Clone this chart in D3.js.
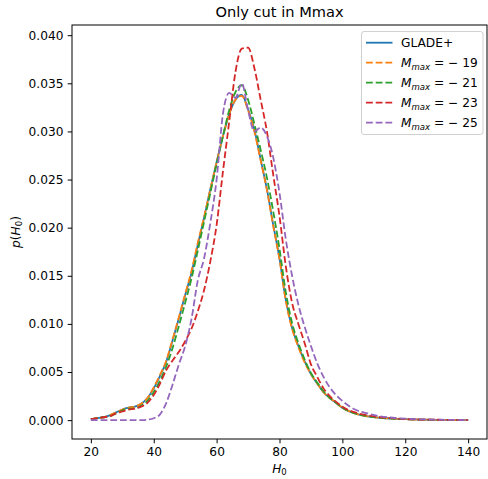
<!DOCTYPE html>
<html>
<head>
<meta charset="utf-8">
<script src="https://cdn.jsdelivr.net/npm/d3@7"></script>
<style>
  body { margin: 0; background: #fff; }
  svg { font-family: 'DejaVu Sans', sans-serif; }
</style>
</head>
<body>
<svg id="chart" width="488" height="479"></svg>
<script>
const h0 = [20, 22, 24, 26, 28, 30, 32, 34, 36, 38, 40, 42, 44, 46, 48, 50, 52, 54, 56, 58,
            60, 62, 64, 66, 68, 70, 72, 74, 76, 78, 80, 82, 84, 86, 88, 90, 92, 94, 96, 98,
            100, 104, 108, 112, 116, 120, 130, 140];

const glade = [0.0001, 0.0002, 0.0003, 0.0005, 0.0008, 0.0011, 0.0013, 0.0014, 0.0017, 0.0023,
               0.0033, 0.0046, 0.0061, 0.0083, 0.0106, 0.0130, 0.0153, 0.0182, 0.0210, 0.0240,
               0.0268, 0.0295, 0.0318, 0.0333, 0.0338, 0.0323, 0.0302, 0.0271, 0.0240, 0.0203,
               0.0168, 0.0125, 0.0096, 0.0077, 0.0061, 0.0048, 0.0038, 0.0029, 0.0023, 0.0018,
               0.0013, 0.0007, 0.0004, 0.00025, 0.00015, 0.0001, 0.00003, 0.00001];

const m19 = [0.0001, 0.0002, 0.0003, 0.0005, 0.0008, 0.0011, 0.0013, 0.0014, 0.0017, 0.0023,
             0.0034, 0.0047, 0.0062, 0.0084, 0.0107, 0.0131, 0.0155, 0.0184, 0.0211, 0.0240,
             0.0268, 0.0295, 0.0318, 0.0333, 0.0337, 0.0322, 0.0300, 0.0270, 0.0239, 0.0202,
             0.0167, 0.0124, 0.0095, 0.0076, 0.0060, 0.0048, 0.0038, 0.0029, 0.0023, 0.0018,
             0.0013, 0.0007, 0.0004, 0.00025, 0.00015, 0.0001, 0.00003, 0.00001];

const m21 = [0.0001, 0.0002, 0.0003, 0.0004, 0.0007, 0.0010, 0.0012, 0.0012, 0.0015, 0.0020,
             0.0029, 0.0041, 0.0056, 0.0075, 0.0098, 0.0122, 0.0147, 0.0176, 0.0206, 0.0236,
             0.0266, 0.0295, 0.0322, 0.0341, 0.0348, 0.0333, 0.0308, 0.0281, 0.0252, 0.0217,
             0.0178, 0.0133, 0.0101, 0.0080, 0.0063, 0.0049, 0.0039, 0.0030, 0.0023, 0.0018,
             0.0013, 0.0007, 0.0004, 0.00025, 0.00015, 0.0001, 0.00003, 0.00001];

const m23 = [0.0001, 0.0002, 0.0003, 0.0004, 0.0007, 0.0009, 0.0011, 0.0012, 0.0014, 0.0018,
             0.0026, 0.0038, 0.0052, 0.0062, 0.0071, 0.0082, 0.0095, 0.0113, 0.0135, 0.0165,
             0.0203, 0.0258, 0.0310, 0.0362, 0.0386, 0.0387, 0.0366, 0.0333, 0.0300, 0.0255,
             0.0212, 0.0160, 0.0122, 0.0100, 0.0080, 0.0058, 0.0045, 0.0033, 0.0025, 0.0019,
             0.0014, 0.0008, 0.0005, 0.0003, 0.0002, 0.0001, 0.00004, 0.00001];

const m25 = [0, 0, 0, 0, 0, 0, 0, 0, 0, 0.00005,
             0.0002, 0.0006, 0.0018, 0.0037, 0.0058, 0.0077, 0.0105, 0.0145, 0.0168, 0.0205,
             0.0250, 0.0318, 0.0340, 0.0335, 0.0350, 0.0322, 0.0300, 0.0304, 0.0295, 0.0273,
             0.0236, 0.0188, 0.0150, 0.0120, 0.0097, 0.0077, 0.0059, 0.0045, 0.0034, 0.0026,
             0.0020, 0.0011, 0.0007, 0.0004, 0.00025, 0.00015, 0.00005, 0.00001];

const seriesNames = ['GLADE+', '-19', '-21', '-23', '-25'];
const seriesValues = [glade, m19, m21, m23, m25];
const seriesColors = ['#1f77b4', '#ff7f0e', '#2ca02c', '#d62728', '#9467bd'];

const xTicks = [20, 40, 60, 80, 100, 120, 140];
const yTicks = [0, 0.005, 0.010, 0.015, 0.020, 0.025, 0.030, 0.035, 0.040];

var margin = { top: 25, left: 72, bottom: 40, right: 1 };
var svg = d3.select('#chart');
var width = 488 - margin.left - margin.right;
var height = 479 - margin.top - margin.bottom;
var fs = 12.2;

var x = d3.scaleLinear().domain([14, 146]).range([0, width]);
var y = d3.scaleLinear().domain([-0.00196, 0.04106]).range([height, 0]);

var g = svg.append('g').attr('transform', `translate(${margin.left},${margin.top})`);

var line = d3.line()
  .x((d, i) => x(h0[i]))
  .y(d => y(d))
  .curve(d3.curveMonotoneX);

seriesValues.forEach(function(vals, idx) {
  g.append('path')
   .datum(vals)
   .attr('fill', 'none')
   .attr('stroke', seriesColors[idx])
   .attr('stroke-width', 1.8)
   .attr('stroke-dasharray', idx === 0 ? null : '6.8,2.9')
   .attr('d', line);
});

// axes
var xAxis = g.append('g').attr('transform', `translate(0,${height})`)
  .call(d3.axisBottom(x).tickValues(xTicks).tickSize(4.3).tickPadding(4.3).tickFormat(d3.format('d')));
var yAxis = g.append('g')
  .call(d3.axisLeft(y).tickValues(yTicks).tickSize(4.3).tickPadding(4.3).tickFormat(d3.format('.3f')));

[xAxis, yAxis].forEach(function(ax) {
  ax.attr('font-family', "'DejaVu Sans', sans-serif").attr('font-size', fs);
  ax.select('.domain').remove();
  ax.selectAll('.tick line').attr('stroke', '#000').attr('stroke-width', 1);
  ax.selectAll('.tick text').attr('fill', '#000');
});

// frame
g.append('rect')
 .attr('x', 0).attr('y', 0).attr('width', width).attr('height', height)
 .attr('fill', 'none').attr('stroke', '#000').attr('stroke-width', 1);

// title
svg.append('text')
   .attr('x', margin.left + width / 2).attr('y', 16.5)
   .attr('text-anchor', 'middle').attr('font-size', 14.6)
   .text('Only cut in Mmax');

// x label
var xl = svg.append('text')
   .attr('x', margin.left + width / 2).attr('y', 472.5)
   .attr('text-anchor', 'middle').attr('font-size', fs);
xl.append('tspan').attr('font-style', 'italic').text('H');
xl.append('tspan').attr('font-size', fs * 0.7).attr('dy', 2.2).text('0');

// y label
var yl = svg.append('text')
   .attr('transform', `translate(20,${margin.top + height / 2}) rotate(-90)`)
   .attr('text-anchor', 'middle').attr('font-size', fs);
yl.append('tspan').attr('font-style', 'italic').text('p');
yl.append('tspan').text('(');
yl.append('tspan').attr('font-style', 'italic').text('H');
yl.append('tspan').attr('font-size', fs * 0.7).attr('dy', 2.2).text('0');
yl.append('tspan').attr('dy', -2.2).text(')');

// legend
var lg = svg.append('g').attr('transform', 'translate(361.5,31.5)');
lg.append('rect')
  .attr('x', 0).attr('y', 0).attr('width', 121.5).attr('height', 103)
  .attr('rx', 2.5).attr('fill', '#fff').attr('fill-opacity', 0.8)
  .attr('stroke', '#d0d0d0').attr('stroke-width', 1);

seriesNames.forEach(function(name, idx) {
  var yy = 11.2 + idx * 20;
  lg.append('line')
    .attr('x1', 4.5).attr('x2', 31).attr('y1', yy).attr('y2', yy)
    .attr('stroke', seriesColors[idx]).attr('stroke-width', 1.8)
    .attr('stroke-dasharray', idx === 0 ? null : '6.8,2.9');
  var t = lg.append('text').attr('x', 39.5).attr('y', yy + 4.4).attr('font-size', fs);
  if (idx === 0) {
    t.text(name);
  } else {
    t.append('tspan').attr('font-style', 'italic').text('M');
    t.append('tspan').attr('font-style', 'italic').attr('font-size', fs * 0.7).attr('dy', 2.7).text('max');
    t.append('tspan').attr('dy', -2.7).text(' = \u2212 ' + name.slice(1));
  }
});
</script>
</body>
</html>
